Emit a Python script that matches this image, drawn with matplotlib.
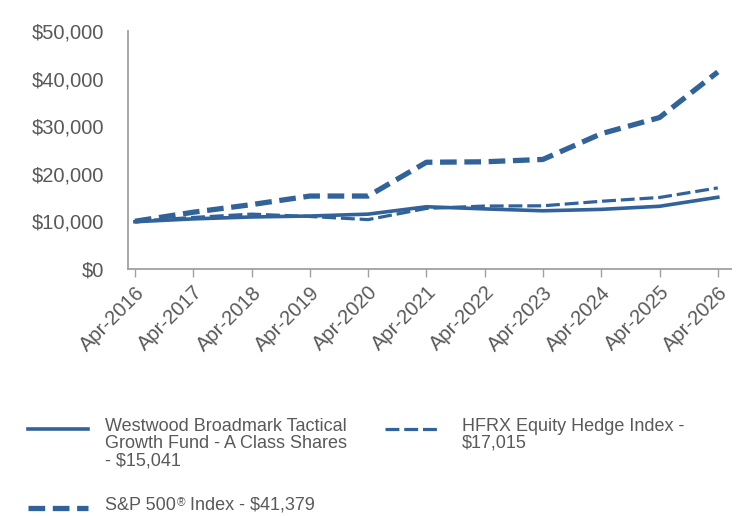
import matplotlib.pyplot as plt
from matplotlib.lines import Line2D
from matplotlib.ticker import StrMethodFormatter

years = ["Apr-2016", "Apr-2017", "Apr-2018", "Apr-2019", "Apr-2020", "Apr-2021",
         "Apr-2022", "Apr-2023", "Apr-2024", "Apr-2025", "Apr-2026"]
fund = [9900, 10500, 10900, 11100, 11500, 13050, 12600, 12200, 12500, 13150, 15041]
hfrx = [10000, 10800, 11500, 11000, 10350, 12700, 13200, 13250, 14200, 15000, 17015]
spx = [10000, 11900, 13500, 15300, 15300, 22400, 22500, 23000, 28400, 31800, 41379]

blue = "#31639A"
grey = "#595959"
plt.rcParams['font.family'] = ['Liberation Sans', 'DejaVu Sans']
plt.rcParams['lines.scale_dashes'] = False

fig = plt.figure(figsize=(7.44, 5.16), dpi=100)
ax = fig.add_axes([0.172, 0.479, 0.81, 0.461])
x = list(range(len(years)))

ax.plot(x, fund, color=blue, lw=2.6, solid_joinstyle='round')
ax.plot(x, hfrx, color=blue, lw=2.3, dashes=(10, 3.5))
ax.plot(x, spx, color=blue, lw=3.8, dashes=(12, 5.5))

ax.set_ylim(0, 50000)
ax.set_xlim(-0.12, 10.22)
ax.set_yticks(range(0, 50001, 10000))
ax.yaxis.set_major_formatter(StrMethodFormatter('${x:,.0f}'))
ax.set_xticks(x)
ax.set_xticklabels(years, rotation=45, ha='right', rotation_mode='anchor')
ax.tick_params(axis='x', colors='#A0A0A0', labelcolor=grey, labelsize=14.5, length=6, width=1, pad=4)
ax.tick_params(axis='y', length=0, labelcolor=grey, labelsize=14.5, pad=17)
for s in ['top', 'right']:
    ax.spines[s].set_visible(False)
for s in ['left', 'bottom']:
    ax.spines[s].set_color('#A0A0A0')
    ax.spines[s].set_linewidth(1.3)

# legend drawn by hand
def sample(x0, x1, y, **kw):
    fig.add_artist(Line2D([x0 / 744, x1 / 744], [1 - y / 516, 1 - y / 516],
                          color=blue, transform=fig.transFigure, **kw))

sample(28, 88, 429, lw=2.6)
sample(385, 438, 429, lw=2.3, dashes=(10, 3.5))
sample(28, 88, 508, lw=3.8, dashes=(12, 5.5))

tkw = dict(color=grey, fontsize=13, va='top', linespacing=1.0, parse_math=False)
fig.text(105 / 744, 1 - 418 / 516,
         "Westwood Broadmark Tactical\nGrowth Fund - A Class Shares\n- $15,041", **tkw)
fig.text(462 / 744, 1 - 418 / 516, "HFRX Equity Hedge Index -\n$17,015", **tkw)
t1 = fig.text(105 / 744, 1 - 497 / 516, "S&P 500", **tkw)
an1 = ax.annotate("®", xy=(1, 1), xycoords=t1, xytext=(0.5, 0), textcoords='offset points',
                  color=grey, fontsize=8.5, va='top', ha='left', annotation_clip=False)
an2 = ax.annotate(" Index - $41,379", xy=(1, 1), xycoords=(an1, t1), color=grey,
                  fontsize=13, va='top', ha='left', annotation_clip=False)

fig.savefig("out.png", dpi=100)
